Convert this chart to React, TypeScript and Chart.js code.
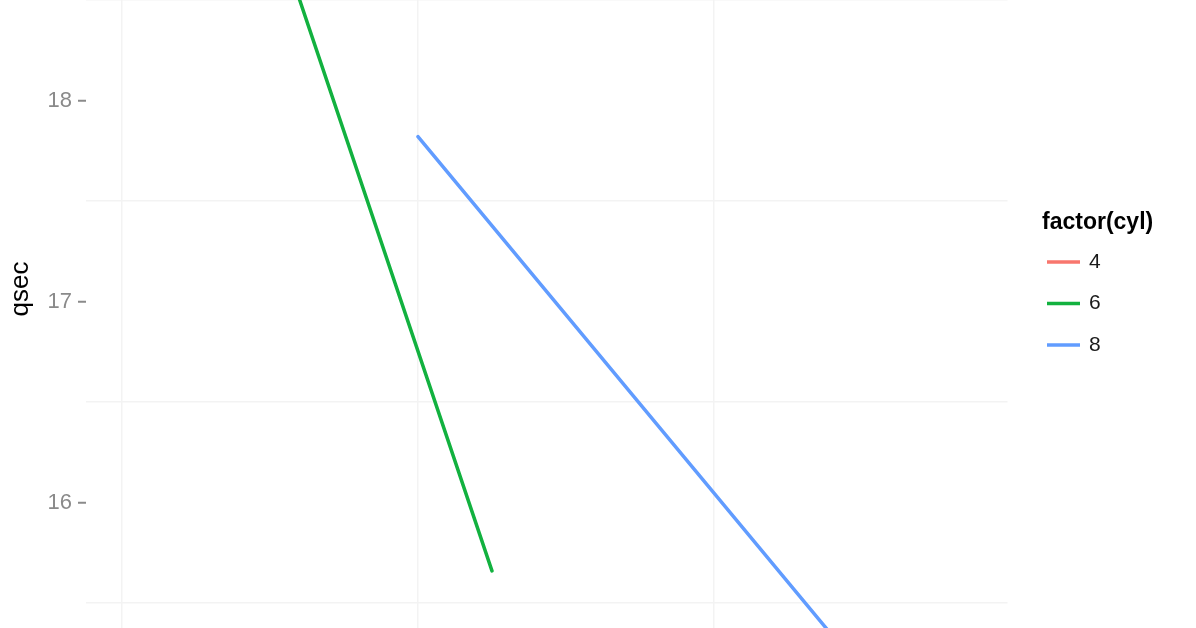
import { useEffect, useRef } from 'react';
import { Chart, registerables } from 'chart.js';

Chart.register(...registerables);

// hp vs qsec, one fitted line per cylinder group (ggplot default hues)
const groups = ['4', '6', '8'];
const colors = ['#F8766D', '#12B13F', '#619CFF'];

// cyl 4 line sits above the visible crop, so nothing of it can be read
const hp4: number[] = [];
const qsec4: number[] = [];
const hp6 = [105, 175];
const qsec6 = [18.72, 15.66];
const hp8 = [150, 335];
const qsec8 = [17.82, 14.54];

// labelled y ticks, and the minor grid lines between them
const yTicks = [16, 17, 18];
const yMinor = [15.5, 16.5, 17.5, 18.5];
const xMinor = [50, 150, 250];

const FONT = '"Liberation Sans", Arial, Helvetica, sans-serif';
const GRID = '#f3f3f3';

const toPoints = (xs: number[], ys: number[]) => xs.map((x, i) => ({ x, y: ys[i] }));

const overlayPlugin = {
  id: 'ggOverlay',
  afterDraw(chart: Chart) {
    const { ctx } = chart;
    ctx.save();

    // y axis title
    ctx.save();
    ctx.translate(21, 289);
    ctx.rotate(-Math.PI / 2);
    ctx.fillStyle = '#000';
    ctx.font = `26px ${FONT}`;
    ctx.textAlign = 'center';
    ctx.textBaseline = 'middle';
    ctx.fillText('qsec', 0, 0);
    ctx.restore();

    // legend
    ctx.fillStyle = '#000';
    ctx.font = `bold 23px ${FONT}`;
    ctx.textAlign = 'left';
    ctx.textBaseline = 'middle';
    ctx.fillText('factor(cyl)', 1042, 223);

    chart.data.datasets.forEach((ds, i) => {
      const y = 262 + i * 41.5;
      ctx.strokeStyle = ds.borderColor as string;
      ctx.lineWidth = 3.5;
      ctx.beginPath();
      ctx.moveTo(1047, y);
      ctx.lineTo(1080, y);
      ctx.stroke();
      ctx.fillStyle = '#1a1a1a';
      ctx.font = `21px ${FONT}`;
      ctx.fillText(ds.label as string, 1089, y);
    });

    ctx.restore();
  },
};

const App = () => {
  const canvasRef = useRef<HTMLCanvasElement>(null);
  const chartRef = useRef<Chart | null>(null);

  useEffect(() => {
    if (!canvasRef.current) return;
    if (chartRef.current) chartRef.current.destroy();

    const series = [toPoints(hp4, qsec4), toPoints(hp6, qsec6), toPoints(hp8, qsec8)];
    const yMin = 15.376;
    const yMax = 18.5;

    chartRef.current = new Chart(canvasRef.current, {
      type: 'scatter',
      data: {
        datasets: groups.map((g, i) => ({
          label: g,
          data: series[i],
          showLine: true,
          borderColor: colors[i],
          backgroundColor: colors[i],
          borderWidth: 3.5,
          pointRadius: 0,
          borderCapStyle: 'round' as const,
        })),
      },
      options: {
        animation: false,
        responsive: true,
        maintainAspectRatio: false,
        layout: { autoPadding: false, padding: { left: 0, right: 188.5, top: 0, bottom: 0 } },
        plugins: {
          legend: { display: false },
          tooltip: { enabled: false },
        },
        scales: {
          x: {
            type: 'linear',
            min: 37.85,
            max: 349.15,
            border: { display: false },
            afterBuildTicks: (scale: any) => {
              scale.ticks = xMinor.map((value) => ({ value }));
            },
            afterFit: (scale: any) => {
              scale.height = 0;
              scale.paddingLeft = 0;
              scale.paddingRight = 0;
            },
            ticks: { display: false },
            grid: { drawTicks: false, lineWidth: 1.5, color: GRID },
          },
          y: {
            type: 'linear',
            position: 'left',
            min: yMin,
            max: yMax,
            border: { display: false },
            afterBuildTicks: (scale: any) => {
              scale.ticks = yTicks.map((value) => ({ value }));
            },
            afterFit: (scale: any) => {
              scale.width = 86;
              scale.paddingTop = 0;
              scale.paddingBottom = 0;
            },
            ticks: {
              autoSkip: false,
              padding: 6,
              color: '#8a8a8a',
              font: { family: FONT, size: 22 },
            },
            grid: {
              lineWidth: 1.5,
              tickLength: 8,
              tickWidth: 2,
              color: 'rgba(0,0,0,0)',
              tickColor: '#8a8a8a',
            },
          },
          yGrid: {
            type: 'linear',
            position: 'left',
            min: yMin,
            max: yMax,
            border: { display: false },
            afterBuildTicks: (scale: any) => {
              scale.ticks = yMinor.map((value) => ({ value }));
            },
            afterFit: (scale: any) => {
              scale.width = 0;
              scale.paddingTop = 0;
              scale.paddingBottom = 0;
            },
            ticks: { display: false },
            grid: { drawTicks: false, lineWidth: 1.5, color: GRID },
          },
        },
      },
      plugins: [overlayPlugin],
    });

    return () => {
      if (chartRef.current) {
        chartRef.current.destroy();
        chartRef.current = null;
      }
    };
  }, []);

  return (
    <div style={{ position: 'fixed', left: 0, top: 0, width: 1196, height: 628, background: '#fff' }}>
      <canvas ref={canvasRef} />
    </div>
  );
};

export default App;
